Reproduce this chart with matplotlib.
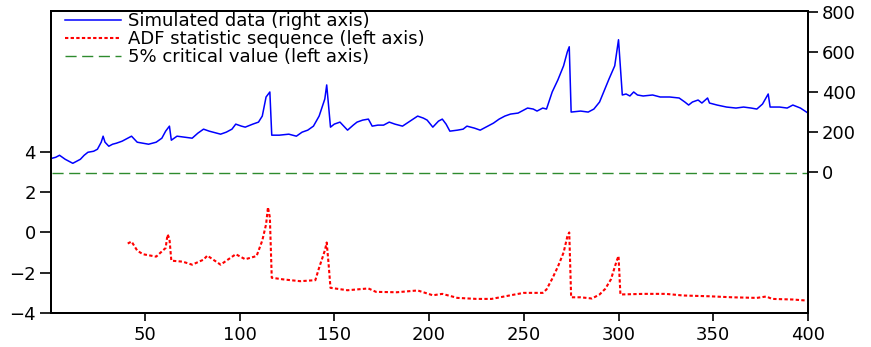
import matplotlib
matplotlib.use("Agg")
import matplotlib.pyplot as plt

# Simulated data (right axis) - key points
sim_x = [1, 3, 5, 8, 10, 12, 14, 16, 18, 20, 23, 25, 27, 28, 29, 31, 33, 35, 38, 40, 43,
         46, 49, 52, 56, 59, 61, 63, 64, 67, 71, 75, 78, 81, 84, 86, 90, 93, 96, 98, 101,
         103, 107, 110, 112, 114, 116, 117, 121, 126, 130, 133, 136, 139, 142, 145, 146,
         147, 148, 150, 153, 157, 160, 162, 165, 168, 170, 173, 176, 179, 182, 186, 190,
         194, 197, 199, 202, 205, 207, 209, 211, 215, 218, 220, 224, 227, 231, 234, 237,
         240, 243, 247, 250, 252, 255, 257, 260, 262, 265, 268, 271, 273, 274, 275, 280,
         284, 287, 290, 295, 298, 300, 301, 302, 304, 306, 308, 310, 313, 318, 322, 327,
         332, 335, 337, 339, 342, 344, 347, 348, 352, 357, 362, 366, 370, 373, 376, 379,
         380, 385, 389, 392, 396, 400]
sim_y = [70, 75, 85, 65, 55, 45, 55, 65, 85, 100, 105, 115, 150, 180, 150, 130, 140, 145,
         155, 165, 180, 150, 145, 140, 150, 170, 205, 230, 160, 180, 175, 170, 195, 215,
         205, 200, 190, 200, 215, 240, 230, 225, 240, 250, 280, 375, 400, 185, 185, 190,
         180, 200, 210, 230, 280, 365, 435, 330, 225, 240, 250, 210, 235, 250, 260, 265,
         230, 235, 235, 250, 240, 230, 255, 280, 270, 260, 225, 255, 265, 240, 205, 210,
         215, 230, 220, 210, 230, 245, 265, 280, 290, 295, 310, 320, 315, 305, 320, 315,
         400, 460, 530, 600, 625, 300, 305, 300, 315, 350, 465, 530, 660, 525, 385, 390,
         380, 400, 385, 380, 385, 375, 375, 370, 350, 335, 350, 360, 345, 370, 345, 335,
         325, 320, 325, 320, 315, 340, 390, 325, 325, 320, 335, 320, 295]

# ADF statistic sequence (left axis)
adf_x = [41, 43, 46, 49, 56, 61, 62, 63, 64, 70, 75, 81, 83, 90, 98, 103, 109, 112, 114,
         115, 116, 117, 123, 132, 140, 142, 145, 146, 147, 148, 157, 168, 172, 183, 194,
         202, 207, 215, 225, 233, 243, 250, 260, 262, 265, 268, 271, 273, 274, 275, 280,
         286, 290, 293, 296, 299, 300, 301, 313, 325, 334, 348, 360, 373, 378, 381, 392, 399]
adf_y = [-0.55, -0.45, -0.9, -1.08, -1.2, -0.77, -0.1, -0.3, -1.4, -1.45, -1.6, -1.35,
         -1.15, -1.6, -1.08, -1.33, -1.17, -0.4, 0.4, 1.25, 0.75, -2.25, -2.33, -2.42,
         -2.37, -1.75, -0.9, -0.5, -1.57, -2.75, -2.87, -2.78, -2.95, -2.97, -2.88, -3.12,
         -3.05, -3.25, -3.3, -3.3, -3.12, -3.0, -3.0, -2.83, -2.3, -1.7, -1.0, -0.2, 0.0,
         -3.22, -3.22, -3.28, -3.08, -2.8, -2.33, -1.42, -1.17, -3.08, -3.05, -3.05, -3.13,
         -3.17, -3.22, -3.25, -3.18, -3.3, -3.33, -3.38]

# 5% critical value (left axis)
crit_x = [1, 400]
crit_y = [2.93, 2.93]

labels = ["Simulated data (right axis)", "ADF statistic sequence (left axis)",
          "5% critical value (left axis)"]

plt.rcParams['font.family'] = ['DejaVu Sans']

fig = plt.figure(figsize=(8.71, 3.47), dpi=100)
ax = fig.add_axes([51/871, 1-313/347, (808-51)/871, (313-11)/347])
ax2 = ax.twinx()

l_adf, = ax.plot(adf_x, adf_y, color='#FF0000', lw=1.5, dashes=(1.6, 1.1))
l_crit, = ax.plot(crit_x, crit_y, color='#2E8B2E', lw=1.0, dashes=(8, 4))
l_sim, = ax2.plot(sim_x, sim_y, color='#0000FF', lw=1.1)

ax.set_xlim(0.5, 400)
ax.set_ylim(-4, 11)
ax2.set_ylim(-700, 803)

ax.set_xticks([50, 100, 150, 200, 250, 300, 350, 400])
ax.set_yticks([-4, -2, 0, 2, 4])
ax2.set_yticks([0, 200, 400, 600, 800])

for a in (ax, ax2):
    for s in a.spines.values():
        s.set_linewidth(1.4)
ax.tick_params(axis='y', length=8, width=1.2, labelsize=13, pad=3)
ax.tick_params(axis='x', length=6, width=1.2, labelsize=13, pad=3)
ax2.tick_params(axis='y', length=7, width=1.2, labelsize=13, pad=3)

leg = ax2.legend([l_sim, l_adf, l_crit], labels, loc='upper left',
                 bbox_to_anchor=(14/757, 1 - 1/302), frameon=False, fontsize=13,
                 handlelength=3.1, handletextpad=0.4, labelspacing=0.0,
                 borderaxespad=0, borderpad=0)

fig.savefig("out.png", dpi=100)
